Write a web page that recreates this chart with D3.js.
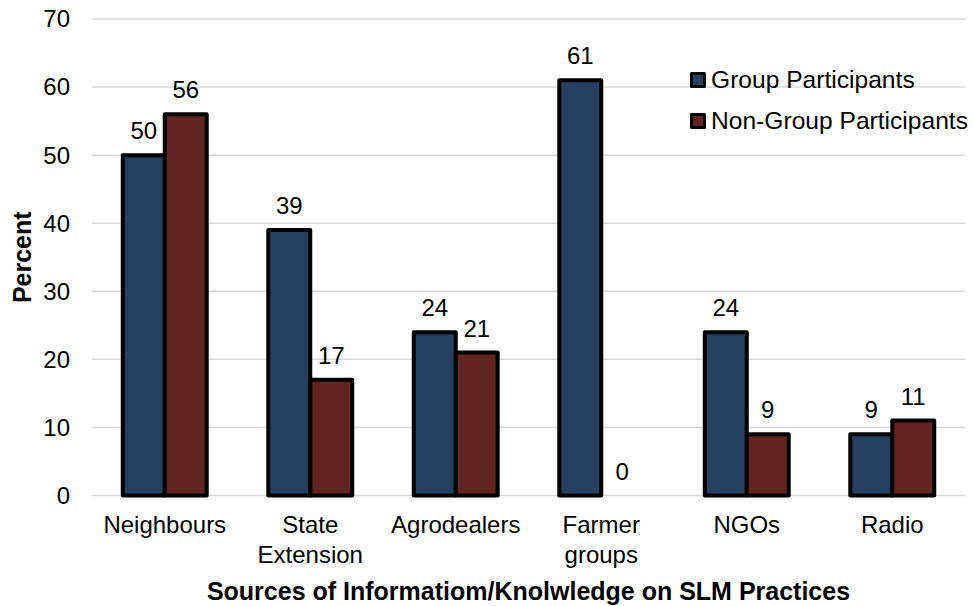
<!DOCTYPE html>
<html>
<head>
<meta charset="utf-8">
<script src="https://cdn.jsdelivr.net/npm/d3@7/dist/d3.min.js"></script>
<style>
  html, body { margin: 0; padding: 0; background: #fff; }
  svg { display: block; font-family: Arial, "Liberation Sans", sans-serif; }
</style>
</head>
<body>
<svg id="chart" width="973" height="606"></svg>
<script>
// Sources of SLM information, percent of respondents
const categories = [["Neighbours"], ["State", "Extension"], ["Agrodealers"], ["Farmer", "groups"], ["NGOs"], ["Radio"]];
const seriesNames = ["Group Participants", "Non-Group Participants"];
const groupValues = [50, 39, 24, 61, 24, 9];
const nonGroupValues = [56, 17, 21, 0, 9, 11];
const yTicks = [0, 10, 20, 30, 40, 50, 60, 70];
const colors = ["#254061", "#632523"];

const svg = d3.select("#chart");
const plotLeft = 92, plotRight = 965, plotTop = 19, plotBottom = 495.5;

const catKeys = categories.map(c => c.join(" "));
const x0 = d3.scaleBand().domain(catKeys).range([plotLeft, plotRight])
  .paddingInner(0.423).paddingOuter(0.2115);
const x1 = d3.scaleBand().domain(seriesNames).range([0, x0.bandwidth()]);
const y = d3.scaleLinear().domain([0, 70]).range([plotBottom, plotTop]);

// gridlines
svg.append("g").selectAll("line").data(yTicks).join("line")
  .attr("x1", plotLeft).attr("x2", plotRight)
  .attr("y1", d => y(d)).attr("y2", d => y(d))
  .attr("stroke", "#d9d9d9").attr("stroke-width", 1.5);

// y axis tick labels
svg.append("g").selectAll("text").data(yTicks).join("text")
  .attr("x", 70).attr("y", d => y(d)).attr("dy", "0.35em")
  .attr("text-anchor", "end").attr("font-size", 24).attr("fill", "#000")
  .text(d => d);

// bars
const rows = catKeys.map((k, i) => ({ key: k, vals: [groupValues[i], nonGroupValues[i]] }));
const groups = svg.append("g").selectAll("g").data(rows).join("g")
  .attr("transform", d => `translate(${x0(d.key)},0)`);

groups.selectAll("rect").data(d => d.vals.map((v, j) => ({ v, s: seriesNames[j], j })))
  .join("rect")
  .attr("x", d => x1(d.s)).attr("width", x1.bandwidth())
  .attr("y", d => y(d.v)).attr("height", d => y(0) - y(d.v))
  .attr("fill", d => colors[d.j])
  .attr("stroke", "#000").attr("stroke-width", 4).attr("stroke-linejoin", "round")
  .attr("stroke-opacity", d => d.v > 0 ? 1 : 0);

groups.selectAll("text").data(d => d.vals.map((v, j) => ({ v, s: seriesNames[j] })))
  .join("text")
  .attr("x", d => x1(d.s) + x1.bandwidth() / 2)
  .attr("y", d => y(d.v) - 16)
  .attr("text-anchor", "middle").attr("font-size", 24).attr("fill", "#000")
  .text(d => d.v);

// category labels
const catG = svg.append("g").selectAll("text").data(categories).join("text")
  .attr("x", (d, i) => x0(catKeys[i]) + x0.bandwidth() / 2)
  .attr("y", 533)
  .attr("text-anchor", "middle").attr("font-size", 24).attr("fill", "#000");
catG.selectAll("tspan").data(d => d).join("tspan")
  .attr("x", function () { return d3.select(this.parentNode).attr("x"); })
  .attr("dy", (d, i) => i === 0 ? 0 : 30)
  .text(d => d);

// axis titles
svg.append("text")
  .attr("x", (plotLeft + plotRight) / 2).attr("y", 600)
  .attr("text-anchor", "middle").attr("font-size", 25).attr("font-weight", "bold")
  .text("Sources of Informatiom/Knolwledge on SLM Practices");

svg.append("text")
  .attr("transform", `translate(31,${(plotTop + plotBottom) / 2}) rotate(-90)`)
  .attr("text-anchor", "middle").attr("font-size", 25).attr("font-weight", "bold")
  .text("Percent");

// legend
const legend = svg.append("g").selectAll("g").data(seriesNames).join("g")
  .attr("transform", (d, i) => `translate(690,${72 + i * 41})`);
legend.append("rect")
  .attr("x", 1.5).attr("y", 1.5).attr("width", 13).attr("height", 13)
  .attr("fill", (d, i) => colors[i]).attr("stroke", "#000").attr("stroke-width", 3)
  .attr("stroke-linejoin", "round");
legend.append("text")
  .attr("x", 21).attr("y", 15.5).attr("font-size", 24.6).attr("fill", "#000")
  .text(d => d);
</script>
</body>
</html>
